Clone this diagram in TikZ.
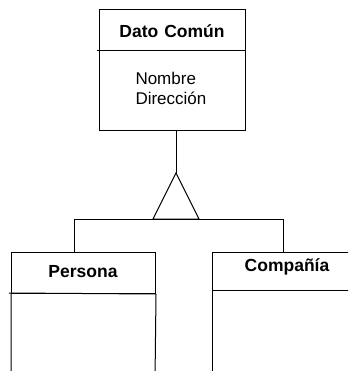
\documentclass[tikz,border=0pt]{standalone}
\usepackage{fontspec}
\setmainfont{Liberation Sans}
\begin{document}
\begin{tikzpicture}[x=1pt,y=-1pt,
  line width=1pt,
  classbox/.style={draw, rectangle, inner sep=0pt, anchor=north west},
  title/.style={font=\fontsize{17.5}{20}\selectfont\bfseries, inner sep=0pt, anchor=base},
  attr/.style={font=\fontsize{17}{20}\selectfont, inner sep=0pt, anchor=base west},
  link/.style={draw, line width=1pt}]
\useasboundingbox (0,0) rectangle (348,371);
\clip (0,0) rectangle (348,371);

% superclass
\node[classbox, minimum width=146pt, minimum height=121pt] (dato) at (99,9) {};
\draw (97,51) -- (dato.east |- 0,51);
\node[title] (datoT) at (172,38) {Dato\hspace{6pt}Común};
\node[attr] (nombre) at (135,85) {Nombre};
\node[attr] (direccion) at (135,105) {Dirección};

% subclasses (open at the bottom)
\node[classbox, minimum width=144pt, minimum height=41pt] (persona) at (11,252) {};
\draw (9,293) -- (persona.south east);
\draw (persona.south west) -- (11,380) (persona.south east) -- (155,380);
\node[title] (personaT) at (83,277) {Persona};

\node[classbox, minimum width=160pt, minimum height=38pt] (compania) at (212,252) {};
\draw (compania.south west) -- (212,380);
\node[title] (companiaT) at (287,271) {Compañía};

% generalization symbol
\coordinate (apex) at (176,173);
\coordinate (baseL) at (153,219);
\coordinate (baseR) at (199,219);
\coordinate (barL) at (74,219);
\coordinate (barR) at (283,219);
\draw[link] (dato.south -| apex) -- (apex);
\draw[link] (apex) -- (baseL) -- (baseR) -- cycle;
\draw[link] (barL) -- (barR);
\draw[link] (barL) -- (barL |- persona.north);
\draw[link] (barR) -- (barR |- compania.north);
\end{tikzpicture}
\end{document}
